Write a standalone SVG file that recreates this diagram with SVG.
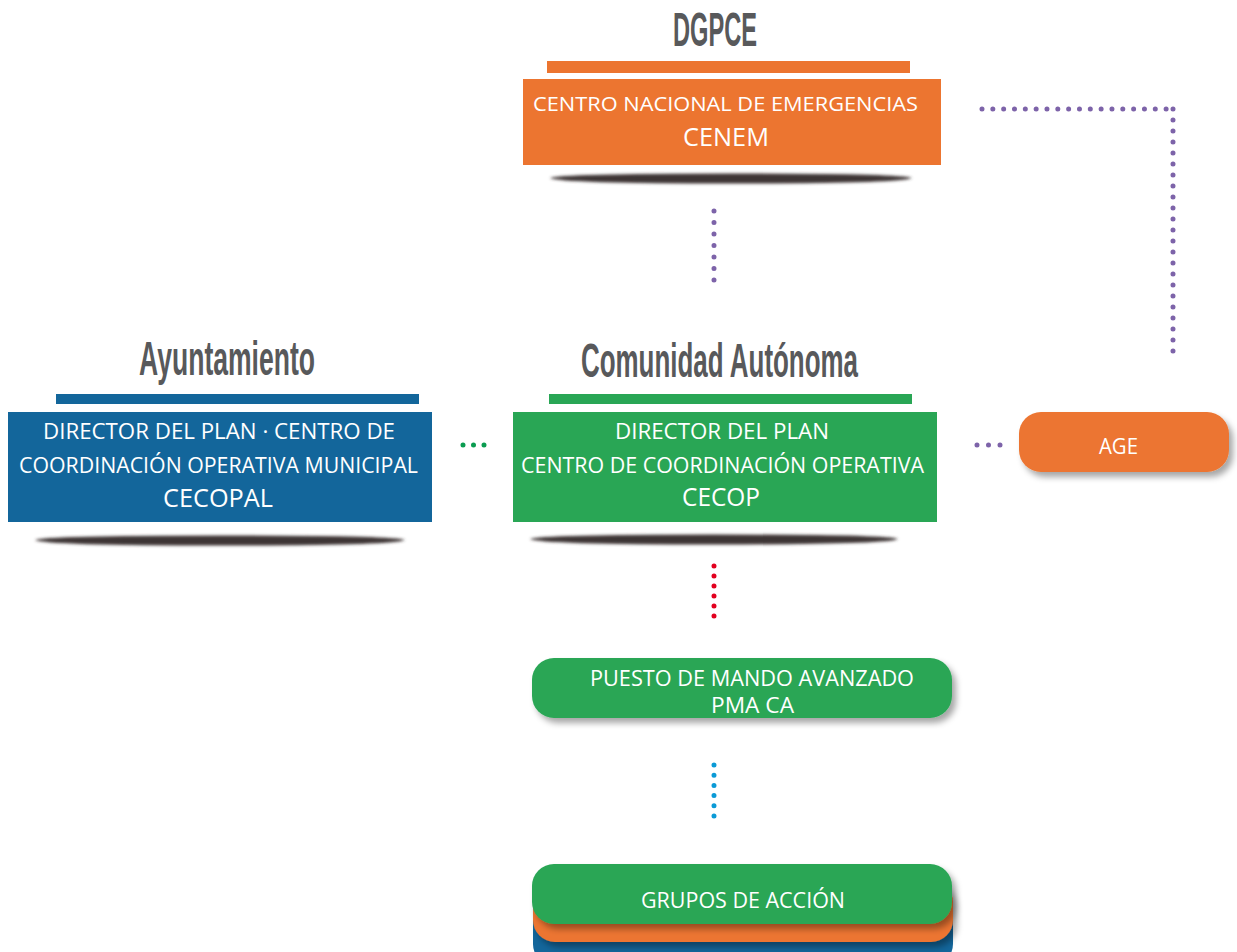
<svg xmlns="http://www.w3.org/2000/svg" width="1237" height="952" viewBox="0 0 1237 952">
<defs>
<filter id="blur" x="-10%" y="-200%" width="120%" height="500%"><feGaussianBlur stdDeviation="1.8"/></filter>
<filter id="ds" x="-10%" y="-30%" width="125%" height="180%"><feDropShadow dx="4" dy="5" stdDeviation="3" flood-color="#000" flood-opacity="0.35"/></filter>
<style>
.title{font-family:"Liberation Sans","DejaVu Sans",sans-serif;font-weight:bold;fill:#58595b;font-size:48px}
.t{font-family:"Open Sans","Liberation Sans",sans-serif;font-weight:500;fill:#fff;text-anchor:start}
.sh{fill:#3e3434}
.dot{fill:none;stroke-linecap:round;stroke-width:5}
.pur{stroke:#7d63a9}
</style>
</defs>
<rect width="1237" height="952" fill="#fff"/>

<g id="connectors">
<path class="dot pur" d="M714,211 V280.5" stroke-dasharray="0 11.5"/>
<path class="dot pur" d="M982,109 H1166.5" stroke-dasharray="0 10.83"/>
<path class="dot pur" d="M1173,109 V351.5" stroke-dasharray="0 11"/>
<path class="dot" stroke="#0a9c50" d="M463,445 H484.5" stroke-dasharray="0 10.5"/>
<path class="dot pur" d="M977,445 H1000.5" stroke-dasharray="0 11.5"/>
<path class="dot" stroke="#e2001f" stroke-width="5.4" d="M714,566 V616.5" stroke-dasharray="0 10"/>
<path class="dot" stroke="#0a9ad6" stroke-width="5.4" d="M714,765 V816.5" stroke-dasharray="0 10.2"/>
</g>

<g id="dgpce">
<text class="title" x="673" y="46" textLength="84" lengthAdjust="spacingAndGlyphs">DGPCE</text>
<rect x="547" y="61" width="363" height="12" fill="#ec7530"/>
<path class="sh" filter="url(#blur)" d="M550,178 Q560,173.5 731,173.5 Q902,173.5 912,178 Q902,183.5 731,183.5 Q560,183.5 550,178 Z"/>
<rect x="523" y="79" width="418" height="86" fill="#ec7530"/>
<text class="t" x="533" y="111" font-size="20" textLength="385" lengthAdjust="spacingAndGlyphs">CENTRO NACIONAL DE EMERGENCIAS</text>
<text class="t" x="683" y="146" font-size="26" textLength="86" lengthAdjust="spacingAndGlyphs">CENEM</text>
</g>

<g id="ayuntamiento">
<text class="title" x="139" y="375" textLength="176" lengthAdjust="spacingAndGlyphs">Ayuntamiento</text>
<rect x="56" y="394" width="363" height="10" fill="#13669b"/>
<path class="sh" filter="url(#blur)" d="M35,540 Q45,535.5 220,535.5 Q395,535.5 405,540 Q395,545.5 220,545.5 Q45,545.5 35,540 Z"/>
<rect x="8" y="412" width="424" height="110" fill="#13669b"/>
<text class="t" x="43" y="439" font-size="21" textLength="352" lengthAdjust="spacingAndGlyphs">DIRECTOR DEL PLAN · CENTRO DE</text>
<text class="t" x="19" y="473" font-size="21" textLength="399" lengthAdjust="spacingAndGlyphs">COORDINACIÓN OPERATIVA MUNICIPAL</text>
<text class="t" x="163" y="507" font-size="25" textLength="110" lengthAdjust="spacingAndGlyphs">CECOPAL</text>
</g>

<g id="comunidad">
<text class="title" x="581" y="377" textLength="277" lengthAdjust="spacingAndGlyphs">Comunidad Autónoma</text>
<rect x="549" y="394" width="363" height="10" fill="#29a655"/>
<path class="sh" filter="url(#blur)" d="M530,539 Q540,534.5 714,534.5 Q888,534.5 898,539 Q888,544.5 714,544.5 Q540,544.5 530,539 Z"/>
<rect x="513" y="412" width="424" height="110" fill="#29a655"/>
<text class="t" x="615" y="439" font-size="21" textLength="214" lengthAdjust="spacingAndGlyphs">DIRECTOR DEL PLAN</text>
<text class="t" x="521" y="473" font-size="21" textLength="403" lengthAdjust="spacingAndGlyphs">CENTRO DE COORDINACIÓN OPERATIVA</text>
<text class="t" x="682" y="506" font-size="25" textLength="78" lengthAdjust="spacingAndGlyphs">CECOP</text>
</g>

<g id="age">
<rect x="1019" y="412" width="210" height="60" rx="22" fill="#ec7530" filter="url(#ds)"/>
<text class="t" x="1099" y="454" font-size="22" textLength="39" lengthAdjust="spacingAndGlyphs">AGE</text>
</g>

<g id="pma">
<rect x="532" y="658" width="420" height="60" rx="22" fill="#29a655" filter="url(#ds)"/>
<text class="t" x="590" y="686" font-size="21" textLength="324" lengthAdjust="spacingAndGlyphs">PUESTO DE MANDO AVANZADO</text>
<text class="t" x="711" y="713" font-size="21" textLength="83" lengthAdjust="spacingAndGlyphs">PMA CA</text>
</g>

<g id="grupos">
<rect x="533" y="896" width="420" height="70" rx="22" fill="#13669b"/>
<rect x="533" y="880" width="420" height="62" rx="22" fill="#ec7530" filter="url(#ds)"/>
<rect x="532" y="864" width="420" height="60" rx="22" fill="#29a655" filter="url(#ds)"/>
<text class="t" x="641" y="908" font-size="22" textLength="204" lengthAdjust="spacingAndGlyphs">GRUPOS DE ACCIÓN</text>
</g>
</svg>
